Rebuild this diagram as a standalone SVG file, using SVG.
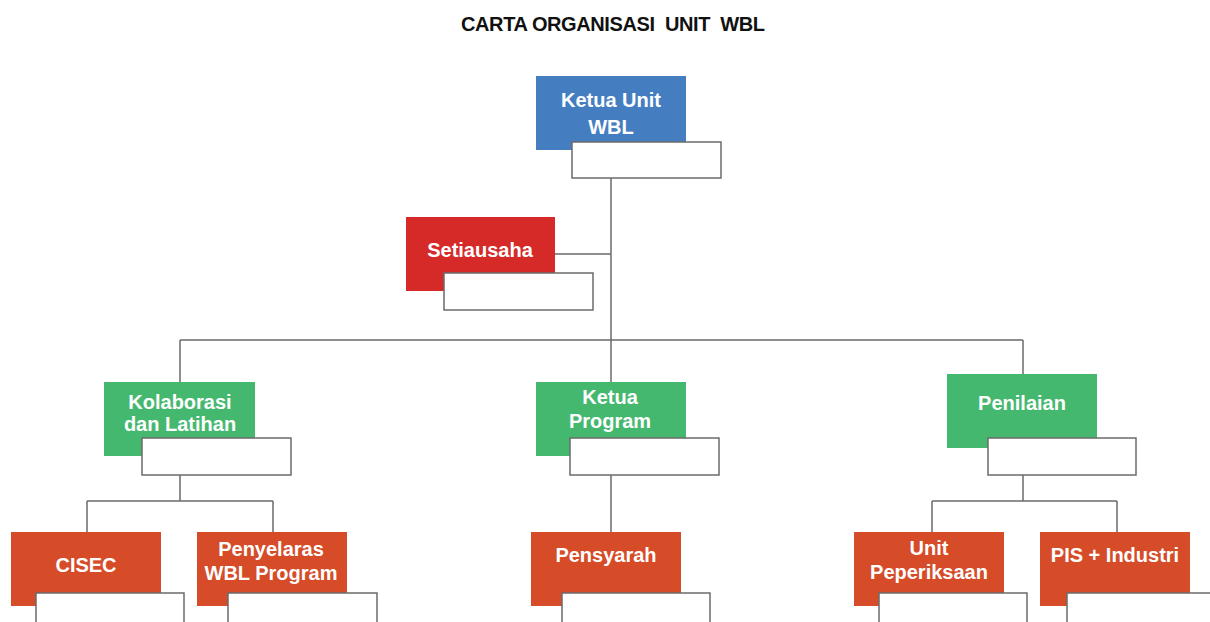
<svg xmlns="http://www.w3.org/2000/svg" width="1210" height="622" viewBox="0 0 1210 622">
<style>
.t{font-family:"Liberation Sans",Arial,sans-serif;font-weight:bold;font-size:20px;fill:#fff;text-anchor:middle}
.title{font-family:"Liberation Sans",Arial,sans-serif;font-weight:bold;font-size:20px;fill:#111;text-anchor:middle}
.w{fill:#fff;stroke:#6b6b6b;stroke-width:1.5}
.blue{fill:#447EC1}
.red{fill:#D62A29}
.green{fill:#45B86F}
.orange{fill:#D64B28}
.c{fill:none;stroke:#6b6b6b;stroke-width:1.5}
</style>
<rect width="1210" height="622" fill="#fff"/>
<text class="title" x="613" y="31" xml:space="preserve" textLength="304">CARTA ORGANISASI  UNIT  WBL</text>
<g id="connectors">
<path class="c" d="M611 178V340M555 254H611M180 340H1023M180 340V382M611 340V382M1023 340V375"/>
<path class="c" d="M180 475V501M87 501H273M87 501V532M273 501V532"/>
<path class="c" d="M611 475V532"/>
<path class="c" d="M1023 475V501M932 501H1117M932 501V532M1117 501V532"/>
</g>
<g id="ketua-unit">
<rect class="blue" x="536" y="76" width="150" height="74"/>
<rect class="w" x="572" y="142" width="149" height="36"/>
<text class="t" x="611" y="107">Ketua Unit</text>
<text class="t" x="611" y="134">WBL</text>
</g>
<g id="setiausaha">
<rect class="red" x="406" y="217" width="149" height="74"/>
<rect class="w" x="444" y="273" width="149" height="37"/>
<text class="t" x="480" y="257">Setiausaha</text>
</g>
<g id="kolaborasi">
<rect class="green" x="104" y="382" width="151" height="74"/>
<rect class="w" x="142" y="438" width="149" height="37"/>
<text class="t" x="180" y="409">Kolaborasi</text>
<text class="t" x="180" y="431">dan Latihan</text>
</g>
<g id="ketua-program">
<rect class="green" x="536" y="382" width="150" height="74"/>
<rect class="w" x="570" y="438" width="149" height="37"/>
<text class="t" x="610" y="404">Ketua</text>
<text class="t" x="610" y="428">Program</text>
</g>
<g id="penilaian">
<rect class="green" x="947" y="374" width="150" height="74"/>
<rect class="w" x="988" y="438" width="148" height="37"/>
<text class="t" x="1022" y="410">Penilaian</text>
</g>
<g id="cisec">
<rect class="orange" x="11" y="532" width="150" height="74"/>
<rect class="w" x="36" y="593" width="148" height="40"/>
<text class="t" x="86" y="572">CISEC</text>
</g>
<g id="penyelaras">
<rect class="orange" x="197" y="532" width="150" height="74"/>
<rect class="w" x="228" y="593" width="149" height="40"/>
<text class="t" x="271" y="556">Penyelaras</text>
<text class="t" x="271" y="580">WBL Program</text>
</g>
<g id="pensyarah">
<rect class="orange" x="531" y="532" width="150" height="74"/>
<rect class="w" x="562" y="593" width="148" height="40"/>
<text class="t" x="606" y="562">Pensyarah</text>
</g>
<g id="unit-peperiksaan">
<rect class="orange" x="854" y="532" width="150" height="74"/>
<rect class="w" x="879" y="593" width="148" height="40"/>
<text class="t" x="929" y="555">Unit</text>
<text class="t" x="929" y="579">Peperiksaan</text>
</g>
<g id="pis-industri">
<rect class="orange" x="1040" y="532" width="150" height="74"/>
<rect class="w" x="1067" y="593" width="148" height="40"/>
<text class="t" x="1115" y="562">PIS + Industri</text>
</g>
</svg>
